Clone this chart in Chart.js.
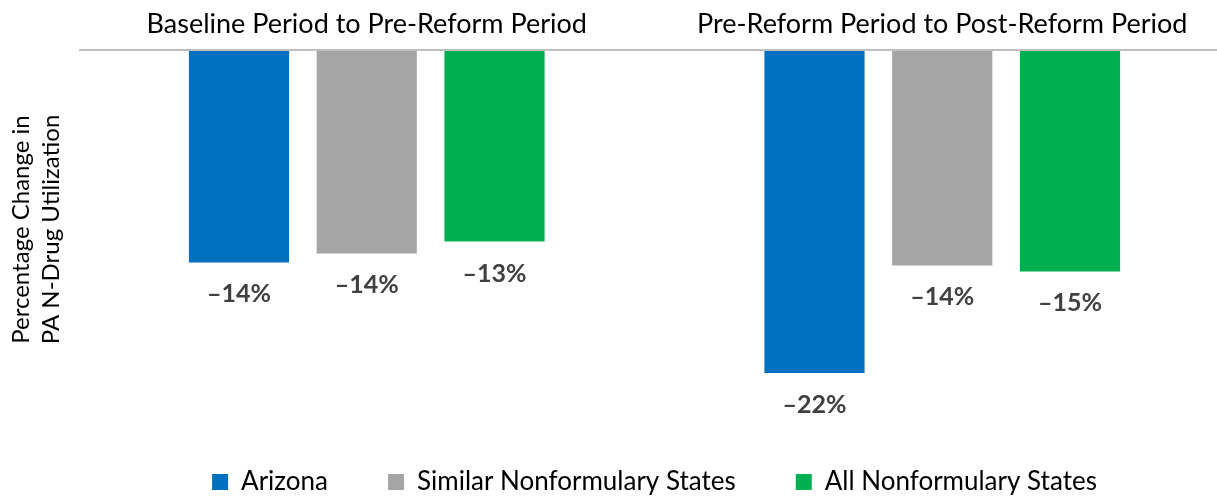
<!DOCTYPE html>
<html>
<head>
<meta charset="utf-8">
<script src="https://cdn.jsdelivr.net/npm/chart.js@4/dist/chart.umd.min.js"></script>
<style>
  html, body { margin: 0; padding: 0; background: #fff; overflow: hidden; }
  #wrap { width: 1230px; height: 505px; position: relative; }
</style>
</head>
<body>
<div id="wrap"><canvas id="c"></canvas></div>
<script>
  // Data (percentage change)
  const periods = ['Baseline Period to Pre-Reform Period', 'Pre-Reform Period to Post-Reform Period'];
  const arizona = [-14.2, -21.6];
  const similarStates = [-13.6, -14.4];
  const allStates = [-12.8, -14.8];
  const yTitle = ['Percentage Change in', 'PA N-Drug Utilization'];

  const FONT = 'Lato, "Open Sans", sans-serif';

  // value labels below each bar end
  const valueLabels = {
    id: 'valueLabels',
    afterDatasetsDraw(chart) {
      const ctx = chart.ctx;
      ctx.save();
      ctx.font = 'bold 25px ' + FONT;
      ctx.fillStyle = '#404040';
      ctx.textAlign = 'center';
      ctx.textBaseline = 'middle';
      chart.data.datasets.forEach((ds, i) => {
        chart.getDatasetMeta(i).data.forEach((bar, j) => {
          const v = ds.data[j];
          const txt = (v < 0 ? '\u2013' : '') + Math.round(Math.abs(v)) + '%';
          ctx.fillText(txt, bar.x, bar.y + 32);
        });
      });
      ctx.restore();
    },
  };

  new Chart(document.getElementById('c'), {
    type: 'bar',
    data: {
      labels: periods,
      datasets: [
        { label: 'Arizona', data: arizona, backgroundColor: '#0070C0' },
        { label: 'Similar Nonformulary States', data: similarStates, backgroundColor: '#A5A5A5' },
        { label: 'All Nonformulary States', data: allStates, backgroundColor: '#00B050' },
      ],
    },
    options: {
      responsive: true, maintainAspectRatio: false, animation: false,
      categoryPercentage: 0.666, barPercentage: 0.784,
      layout: { padding: 0 },
      plugins: {
        legend: {
          position: 'bottom', fullSize: false,
          labels: { color: '#000', boxWidth: 16, boxHeight: 16, padding: 60, font: { size: 26, family: FONT } },
        },
        tooltip: { enabled: false },
      },
      scales: {
        x: {
          position: 'top',
          afterFit: (s) => { s.height = 50; },
          ticks: { color: '#000', font: { size: 27, family: FONT }, padding: 10 },
          grid: { display: false, drawTicks: false }, border: { display: false },
        },
        y: {
          min: -24.0, max: 0,
          afterFit: (s) => { s.width = 79; },
          ticks: { display: false },
          grid: { color: (c) => c.tick.value === 0 ? '#BFBFBF' : 'transparent', lineWidth: 2, drawTicks: false },
          border: { display: false },
          title: { display: true, text: yTitle, color: '#000', font: { size: 24, family: FONT, lineHeight: 1.25 }, padding: { top: 6, bottom: 4 } },
        },
      },
    },
    plugins: [valueLabels],
  });
</script>
</body>
</html>
